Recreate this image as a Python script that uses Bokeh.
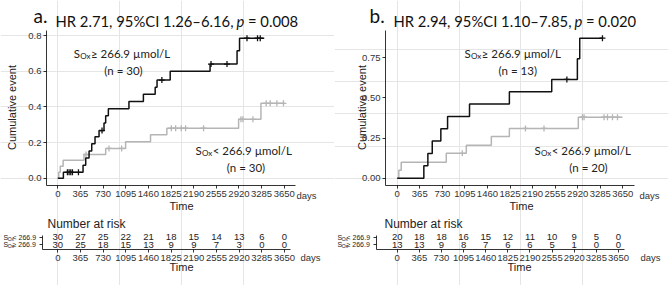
from bokeh.plotting import figure
from bokeh.models import (Range1d, FixedTicker, Label, ColumnDataSource,
                          NumeralTickFormatter, LinearAxis)
from bokeh.layouts import row
from bokeh.core.properties import value
from bokeh.embed import file_html
from bokeh.resources import INLINE

# ---------------- data ----------------
tick_days = [0, 365, 730, 1095, 1460, 1825, 2190, 2555, 2920, 3285, 3650]

# panel a: S_Ox >= 266.9 (black)
a_hi_t = [0, 90, 407, 450, 504, 547, 600, 665, 745, 772, 815, 1147, 1380, 1570, 1600, 1812, 2455, 2890, 2930, 3328]
a_hi_s = [0.0, 0.033, 0.073, 0.113, 0.153, 0.193, 0.233, 0.267, 0.31, 0.35, 0.39, 0.43, 0.47, 0.51, 0.55, 0.6, 0.64, 0.715, 0.785, 0.785]
a_hi_ct = [155, 182, 209, 236, 333, 713, 1678, 2470, 2728, 3050, 3220, 3264]
a_hi_cs = [0.033, 0.033, 0.033, 0.033, 0.033, 0.267, 0.55, 0.64, 0.64, 0.785, 0.785, 0.785]
# panel a: S_Ox < 266.9 (grey)
a_lo_t = [0, 15, 40, 86, 423, 772, 1093, 1495, 1758, 2915, 3275, 3650]
a_lo_s = [0.0, 0.033, 0.067, 0.1, 0.133, 0.167, 0.205, 0.243, 0.28, 0.33, 0.42, 0.42]
a_lo_ct = [455, 825, 1029, 1830, 1900, 1990, 2060, 2350, 2953, 2985, 3146, 3360, 3424, 3532, 3638]
a_lo_cs = [0.133, 0.167, 0.167, 0.28, 0.28, 0.28, 0.28, 0.28, 0.33, 0.33, 0.33, 0.42, 0.42, 0.42, 0.42]

# panel b: S_Ox >= 266.9 (black)
b_hi_t = [0, 431, 496, 567, 706, 815, 1170, 1815, 2500, 2915, 2953, 3321]
b_hi_s = [0.0, 0.077, 0.154, 0.231, 0.308, 0.385, 0.462, 0.538, 0.615, 0.744, 0.872, 0.872]
b_hi_ct = [2745, 3321]
b_hi_cs = [0.615, 0.872]
# panel b: S_Ox < 266.9 (grey)
b_lo_t = [0, 26, 65, 794, 1118, 1523, 1815, 2930, 3645]
b_lo_s = [0.0, 0.05, 0.1, 0.155, 0.205, 0.26, 0.31, 0.38, 0.38]
b_lo_ct = [1053, 2075, 2375, 2997, 3023, 3347, 3402, 3483, 3564]
b_lo_cs = [0.155, 0.31, 0.31, 0.38, 0.38, 0.38, 0.38, 0.38, 0.38]

# numbers at risk
a_risk_lo = [30, 27, 25, 22, 21, 18, 15, 14, 13, 6, 0]
a_risk_hi = [30, 25, 18, 15, 13, 9, 9, 7, 3, 0, 0]
b_risk_lo = [20, 18, 18, 16, 15, 12, 11, 10, 9, 5, 0]
b_risk_hi = [13, 13, 9, 8, 7, 6, 6, 5, 1, 0, 0]

letters = ["a.", "b."]
titles = ["HR 2.71, 95%CI 1.26\u20136.16,", "HR 2.94, 95%CI 1.10\u20137.85,"]
pvals = ["= 0.008", "= 0.020"]
group_n = [("(n = 30)", "(n = 30)"), ("(n = 13)", "(n = 20)")]

# ---------------- style ----------------
SANS = "Liberation Sans"
TFONT = "Lato"
BLACK = "#111111"
GREY = "#b5b5b5"
TXT = "#222222"
W, H = 334, 285


class Panel:
    """One 334x285 panel whose frame is the whole figure."""

    def __init__(self, km_x0px, km_x1px, km_y0py, km_ypy, km_yval, rk_x0px, rk_x1px):
        self.sx = (km_x1px - km_x0px) / 3650.0
        self.x0 = -km_x0px / self.sx
        self.sy = (km_y0py - km_ypy) / km_yval
        self.y1 = km_y0py / self.sy
        self.rsx = (rk_x1px - rk_x0px) / 3650.0
        self.rx0 = -rk_x0px / self.rsx
        self.rsy = 7.6
        self.ry1 = 2 + 236.6 / self.rsy
        self.p = figure(width=W, height=H,
                        x_range=Range1d(self.x0, self.x0 + W / self.sx),
                        y_range=Range1d(self.y1 - H / self.sy, self.y1),
                        x_axis_location=None, y_axis_location=None, min_border=0,
                        output_backend="svg", toolbar_location=None)
        self.p.extra_x_ranges = {"rx": Range1d(self.rx0, self.rx0 + W / self.rsx)}
        self.p.extra_y_ranges = {"ry": Range1d(self.ry1 - H / self.rsy, self.ry1)}
        self.p.outline_line_color = None
        self.p.background_fill_color = "white"
        self.p.border_fill_color = "white"

    def X(self, px):
        return self.x0 + px / self.sx

    def Y(self, py):
        return self.y1 - py / self.sy

    def RX(self, px):
        return self.rx0 + px / self.rsx

    def RY(self, py):
        return self.ry1 - py / self.rsy

    def lab(self, px, py, text, size, font=SANS, align="left", baseline="alphabetic",
            color=TXT, style="normal", angle=0):
        self.p.add_layout(Label(x=self.X(px), y=self.Y(py), text=text, text_font=font,
                                text_font_size=size, text_align=align, text_baseline=baseline,
                                text_color=color, text_font_style=style, angle=angle,
                                angle_units="deg"))


def style_axis(ax):
    ax.axis_line_color = "black"
    ax.axis_line_width = 0.8
    ax.major_tick_line_color = "black"
    ax.major_tick_line_width = 0.8
    ax.major_tick_in = 0
    ax.major_tick_out = 3
    ax.minor_tick_line_color = None
    ax.major_label_text_font = SANS
    ax.major_label_text_font_size = "9.5px"
    ax.major_label_text_color = "#333333"
    ax.major_label_standoff = 2
    return ax


def build(idx, P, fl, yticks, yfmt, hi, lo, risk_lo, risk_hi, pos):
    p = P.p
    # --- KM axes ---
    kx = style_axis(LinearAxis(ticker=FixedTicker(ticks=tick_days), fixed_location=P.Y(185),
                               bounds=(P.X(fl), P.X(fl + 249))))
    p.add_layout(kx, "below")
    ky = style_axis(LinearAxis(ticker=FixedTicker(ticks=yticks),
                               formatter=NumeralTickFormatter(format=yfmt),
                               fixed_location=P.X(fl), bounds=(P.Y(185), P.Y(30))))
    p.add_layout(ky, "left")
    # --- risk axes ---
    rx = style_axis(LinearAxis(x_range_name="rx", y_range_name="ry",
                               ticker=FixedTicker(ticks=tick_days),
                               fixed_location=P.RY(249.3), bounds=(P.RX(41.7), P.RX(290))))
    p.add_layout(rx, "below")
    ry = style_axis(LinearAxis(x_range_name="rx", y_range_name="ry",
                               ticker=FixedTicker(ticks=[1, 2]),
                               major_label_overrides={1: "", 2: ""},
                               fixed_location=P.RX(41.7), bounds=(0.34, 2.22)))
    p.add_layout(ry, "left")

    # --- curves ---
    for (t, s, ct, cs), col in ((lo, GREY), (hi, BLACK)):
        p.step(t, s, mode="after", line_color=col, line_width=1.5)
        p.scatter(ct, cs, marker="cross", size=6, line_color=col, line_width=1.3)

    # --- risk numbers ---
    src = ColumnDataSource(dict(x=tick_days + tick_days, y=[2] * len(risk_lo) + [1] * len(risk_hi),
                                text=[str(v) for v in risk_lo] + [str(v) for v in risk_hi]))
    p.text(x="x", y="y", text="text", source=src, x_range_name="rx", y_range_name="ry",
           text_font=value(SANS), text_font_size=value("9.5px"),
           text_align="center", text_baseline="middle", text_color=TXT)

    # --- title texts ---
    P.lab(pos["letter"], 15, letters[idx], "19px", font=TFONT, color="#111111")
    P.lab(pos["title_end"], 20, titles[idx], "14.8px", font=TFONT, color="#111111", align="right")
    P.lab(pos["title_end"] + 3, 20, "p", "14.8px", font=TFONT, color="#111111", style="italic")
    P.lab(pos["title_end"] + 14.5, 20, pvals[idx], "14.8px", font=TFONT, color="#111111")
    # --- axis titles ---
    P.lab(pos["ycl"], 107, "Cumulative event", "11px", align="center", baseline="middle", angle=90)
    P.lab(pos["days"], 195, "days", "9.5px", align="center", baseline="middle", color="#333333")
    P.lab(pos["time"], 205, "Time", "11px", align="center", baseline="middle")
    # --- curve annotations ---
    for (ax_, ay, rest), nx, ny, nt in ((pos["ann1"], pos["n1"], 69.5, group_n[idx][0]),
                                         (pos["ann2"], pos["n2"], 167, group_n[idx][1])):
        P.lab(ax_, ay, "S", "11.5px", font=TFONT)
        P.lab(ax_ + 6.5, ay + 2.5, "Ox", "8px", font=TFONT)
        P.lab(ax_ + 17.2, ay, rest, "11.5px", font=TFONT)
        P.lab(nx, ny, nt, "11.5px", font=TFONT, align="center")
    # --- risk table texts ---
    P.lab(pos["nar"], 223, "Number at risk", "12px", baseline="middle")
    for py, rest in ((236.6, "< 266.9"), (244.2, "\u2265 266.9")):
        P.lab(3.0, py, "S", "7px", baseline="middle")
        P.lab(7.2, py + 1.5, "Ox", "5px", baseline="middle")
        P.lab(12.0, py, rest, "7px", baseline="middle")
    P.lab(pos["days2"], 256.7, "days", "9.5px", align="center", baseline="middle", color="#333333")
    P.lab(pos["time2"], 266.7, "Time", "11px", align="center", baseline="middle")
    return p


PA = Panel(57.3, 283.7, 177.7, 35.0, 0.8, 57.3, 284.0)
pA = build(0, PA, 46, [0, 0.2, 0.4, 0.6, 0.8], "0.0",
           (a_hi_t, a_hi_s, a_hi_ct, a_hi_cs), (a_lo_t, a_lo_s, a_lo_ct, a_lo_cs),
           a_risk_lo, a_risk_hi,
           dict(letter=33, title_end=233, ycl=11, days=306, time=181,
                ann1=(73.3, 52.5, "\u2265 266.9 \u00b5mol/L"), n1=123,
                ann2=(195, 150, "< 266.9 \u00b5mol/L"), n2=245.5,
                nar=47, days2=310, time2=181))

PB = Panel(62.7, 288.3, 177.7, 57.3, 0.75, 62.7, 284.0)
pB = build(1, PB, 51, [0, 0.25, 0.5, 0.75], "0.00",
           (b_hi_t, b_hi_s, b_hi_ct, b_hi_cs), (b_lo_t, b_lo_s, b_lo_ct, b_lo_cs),
           b_risk_lo, b_risk_hi,
           dict(letter=35, title_end=237, ycl=27, days=315, time=187,
                ann1=(130, 52.5, "\u2265 266.9 \u00b5mol/L"), n1=183.3,
                ann2=(200, 150, "< 266.9 \u00b5mol/L"), n2=254,
                nar=50, days2=316, time2=185))

layout = row(pA, pB)
open("out.html", "w").write(file_html(layout, INLINE))
